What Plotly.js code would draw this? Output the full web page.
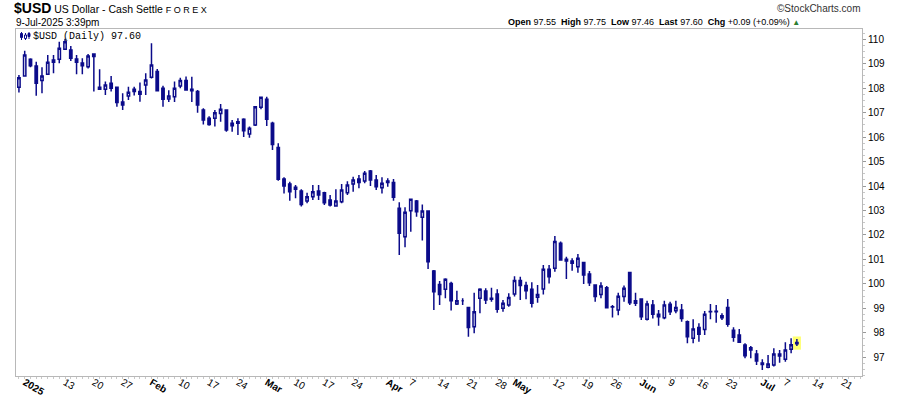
<!DOCTYPE html>
<html>
<head>
<meta charset="utf-8">
<script src="https://cdn.plot.ly/plotly-3.0.1.min.js"></script>
<style>html,body{margin:0;padding:0;background:#fff;}#chart{width:900px;height:396px;}</style>
</head>
<body>
<div id="chart"></div>
<script>
const dates = [
'2024-12-31',
'2025-01-02','2025-01-03','2025-01-06','2025-01-07','2025-01-08','2025-01-09','2025-01-10','2025-01-13','2025-01-14','2025-01-15','2025-01-16','2025-01-17','2025-01-20','2025-01-21','2025-01-22','2025-01-23','2025-01-24','2025-01-27','2025-01-28','2025-01-29','2025-01-30','2025-01-31',
'2025-02-03','2025-02-04','2025-02-05','2025-02-06','2025-02-07','2025-02-10','2025-02-11','2025-02-12','2025-02-13','2025-02-14','2025-02-17','2025-02-18','2025-02-19','2025-02-20','2025-02-21','2025-02-24','2025-02-25','2025-02-26','2025-02-27','2025-02-28',
'2025-03-03','2025-03-04','2025-03-05','2025-03-06','2025-03-07','2025-03-10','2025-03-11','2025-03-12','2025-03-13','2025-03-14','2025-03-17','2025-03-18','2025-03-19','2025-03-20','2025-03-21','2025-03-24','2025-03-25','2025-03-26','2025-03-27','2025-03-28','2025-03-31',
'2025-04-01','2025-04-02','2025-04-03','2025-04-04','2025-04-07','2025-04-08','2025-04-09','2025-04-10','2025-04-11','2025-04-14','2025-04-15','2025-04-16','2025-04-17','2025-04-18','2025-04-21','2025-04-22','2025-04-23','2025-04-24','2025-04-25','2025-04-28','2025-04-29','2025-04-30',
'2025-05-01','2025-05-02','2025-05-05','2025-05-06','2025-05-07','2025-05-08','2025-05-09','2025-05-12','2025-05-13','2025-05-14','2025-05-15','2025-05-16','2025-05-19','2025-05-20','2025-05-21','2025-05-22','2025-05-23','2025-05-26','2025-05-27','2025-05-28','2025-05-29','2025-05-30',
'2025-06-02','2025-06-03','2025-06-04','2025-06-05','2025-06-06','2025-06-09','2025-06-10','2025-06-11','2025-06-12','2025-06-13','2025-06-16','2025-06-17','2025-06-18','2025-06-19','2025-06-20','2025-06-23','2025-06-24','2025-06-25','2025-06-26','2025-06-27','2025-06-30',
'2025-07-01','2025-07-02','2025-07-03','2025-07-04','2025-07-07','2025-07-08','2025-07-09'
];
const openV = [
108.04,
108.5,109.18,108.91,108.31,108.57,109.06,109.18,109.59,109.56,109.19,109.03,108.88,109.4,107.96,107.96,108.2,108.04,107.44,107.68,107.86,107.86,108.13,
108.45,108.68,108.0,107.56,107.65,108.09,108.31,107.96,107.86,107.11,106.77,106.77,106.97,107.11,106.46,106.63,106.73,106.13,106.5,107.22,
107.55,106.57,105.58,104.29,104.08,103.87,103.8,103.39,103.56,103.8,103.73,103.43,103.18,103.36,103.73,104.08,104.29,104.21,104.62,104.25,103.93,
104.21,104.15,103.09,101.93,102.99,103.39,102.72,102.98,100.53,99.98,99.78,100.02,99.18,99.31,99.04,98.25,99.41,99.71,99.41,99.59,99.0,99.14,
99.59,100.14,99.93,99.78,99.45,99.79,100.6,100.64,101.66,100.94,100.94,100.7,100.87,100.4,99.95,99.57,99.84,99.07,98.93,99.48,100.47,99.21,
99.38,98.55,99.14,98.76,98.62,99.17,98.9,98.93,98.45,97.78,98.22,98.14,98.86,98.88,98.7,99.04,98.11,97.91,97.5,97.3,97.13,
96.77,96.59,96.68,97.05,96.92,97.33,97.55
];
const highV = [
108.54,
109.53,109.22,109.08,108.86,109.36,109.36,109.9,110.02,109.73,109.36,109.22,109.4,109.42,108.77,108.27,108.5,108.06,107.79,108.06,108.06,108.23,108.61,
109.84,108.78,108.1,107.92,108.27,108.43,108.48,108.47,107.93,107.18,106.85,107.11,107.35,107.12,106.7,106.77,106.77,106.43,107.27,107.65,
107.65,106.63,105.75,104.36,104.18,104.04,103.87,103.73,104.04,104.04,103.77,103.63,103.87,104.08,104.2,104.38,104.45,104.62,104.66,104.45,104.36,
104.32,104.29,103.34,103.13,103.47,103.43,103.25,102.99,100.57,100.12,100.23,100.09,99.72,99.41,99.05,99.64,99.82,99.82,99.84,99.78,99.34,99.62,
100.31,100.29,100.09,100.07,99.95,100.77,100.77,101.96,101.73,101.11,101.05,101.22,100.88,100.53,99.96,100.07,99.91,99.14,99.64,99.93,100.48,99.64,
99.39,99.31,99.34,98.93,99.31,99.27,99.31,99.18,98.5,98.55,98.39,98.89,99.18,99.14,98.8,99.38,98.23,98.16,97.57,97.46,97.3,
96.92,97.09,97.37,97.3,97.61,97.78,97.75
];
const lowV = [
107.82,
108.47,108.86,107.69,107.79,108.54,108.61,109.02,109.56,109.11,108.57,108.57,108.81,107.86,107.93,107.72,107.86,107.24,107.11,107.52,107.7,107.45,107.72,
108.4,107.88,107.24,107.44,107.44,108.0,107.9,107.44,107.0,106.52,106.47,106.43,106.63,106.22,106.22,106.09,106.0,105.97,106.45,107.14,
106.45,105.47,104.22,103.7,103.4,103.5,103.16,103.3,103.43,103.43,103.23,103.16,103.16,103.3,103.63,103.77,103.91,104.11,104.0,103.84,103.7,
103.97,103.4,101.18,101.5,102.13,102.75,101.77,100.61,98.93,99.14,99.41,98.91,99.14,99.14,97.84,97.98,98.8,99.18,99.27,98.82,98.86,99.07,
99.48,99.34,99.37,99.04,99.23,99.57,100.02,100.5,100.95,100.2,100.54,100.46,100.0,99.91,99.27,99.41,99.03,98.63,98.72,99.27,99.14,99.1,
98.52,98.5,98.59,98.29,98.55,98.73,98.8,98.45,97.57,97.57,97.64,97.91,98.55,98.41,98.52,98.25,97.64,97.61,96.96,96.96,96.68,
96.48,96.55,96.62,96.78,96.82,97.16,97.46
];
const closeV = [
108.43,
109.36,108.92,108.2,108.5,109.06,109.15,109.63,109.9,109.22,109.06,108.92,109.32,109.3,108.04,108.13,108.0,107.42,107.31,107.83,107.96,107.75,108.34,
108.95,107.9,107.55,107.68,108.0,108.31,107.93,107.9,107.31,106.7,106.52,107.0,107.14,106.29,106.57,106.57,106.26,106.36,107.24,107.63,
106.73,105.7,104.28,104.0,103.77,103.95,103.25,103.56,103.77,103.63,103.32,103.23,103.39,103.84,104.04,104.25,104.14,104.52,104.25,103.97,104.11,
104.14,103.54,102.07,102.93,103.46,102.95,102.98,100.91,99.68,99.57,100.19,99.31,99.31,99.31,98.22,98.86,99.78,99.34,99.37,98.96,99.21,99.44,
100.14,99.93,99.72,99.21,99.57,100.6,100.29,101.73,100.98,101.01,100.84,101.05,100.36,100.05,99.48,99.91,99.03,99.06,99.5,99.82,99.23,99.31,
98.66,99.18,98.76,98.66,99.14,98.86,99.04,98.59,97.84,98.16,97.94,98.76,98.87,98.86,98.62,98.35,97.82,97.61,97.06,97.39,96.85,
96.71,96.73,97.13,97.13,97.3,97.51,97.6
];

const tickDates = ['2025-01-02','2025-01-13','2025-01-20','2025-01-27','2025-02-03','2025-02-10','2025-02-17','2025-02-24','2025-03-03','2025-03-10','2025-03-17','2025-03-24','2025-04-01','2025-04-07','2025-04-14','2025-04-21','2025-04-28','2025-05-01','2025-05-12','2025-05-19','2025-05-26','2025-06-02','2025-06-09','2025-06-16','2025-06-23','2025-07-01','2025-07-07','2025-07-14','2025-07-21'];
const tickLabels = ['<b>2025</b>','13','20','27','<b>Feb</b>','10','17','24','<b>Mar</b>','10','17','24','<b>Apr</b>','7','14','21','28','<b>May</b>','12','19','26','<b>Jun</b>','9','16','23','<b>Jul</b>','7','14','21'];
const yTicks = [97,98,99,100,101,102,103,104,105,106,107,108,109,110];

const NAVY = '#0b0b8a';
const FONT = '"Liberation Sans", Arial, sans-serif';

function idxOf(d) {
  const i = dates.indexOf(d);
  if (i >= 0) return i;
  let n = dates.length - 1;
  const cur = new Date(dates[dates.length - 1] + 'T00:00:00Z');
  const t = new Date(d + 'T00:00:00Z');
  while (cur < t) {
    cur.setUTCDate(cur.getUTCDate() + 1);
    const wd = cur.getUTCDay();
    if (wd !== 0 && wd !== 6) n++;
  }
  return n;
}
const xIdx = dates.map((d, i) => i);
const tickVals = tickDates.map(idxOf);

const L = 16, R = 862, T = 29, B = 376, W = 900, H = 396;
const px = p => (p - L) / (R - L);
const py = p => (B - p) / (B - T);

const last = dates.length - 1;
const chg = closeV[last] - closeV[last - 1];
const pct = chg / closeV[last - 1] * 100;
const sgn = v => (v >= 0 ? '+' : '') + v.toFixed(2);

const trace = {
  type: 'candlestick',
  x: xIdx, open: openV, high: highV, low: lowV, close: closeV,
  increasing: {line: {color: NAVY, width: 1.5}, fillcolor: '#ffffff'},
  decreasing: {line: {color: NAVY, width: 1.5}, fillcolor: NAVY},
  whiskerwidth: 0,
  hoverinfo: 'skip',
  showlegend: false
};

const annotations = [
  {xref:'paper', yref:'paper', x:px(12), y:py(8), xanchor:'left', yanchor:'middle', showarrow:false,
   text:'<span style="font-size:14px"><b>$USD</b></span> US Dollar - Cash Settle <span style="font-size:9px">F O R E X</span>',
   font:{family:FONT, size:10.5, color:'#000'}},
  {xref:'paper', yref:'paper', x:px(14), y:py(22), xanchor:'left', yanchor:'middle', showarrow:false,
   text:'9-Jul-2025 3:39pm', font:{family:FONT, size:10, color:'#000'}},
  {xref:'paper', yref:'paper', x:px(863), y:py(8), xanchor:'right', yanchor:'middle', showarrow:false,
   text:'\u00A9StockCharts.com', font:{family:FONT, size:10, color:'#333'}},
  {xref:'paper', yref:'paper', x:px(802), y:py(22), xanchor:'right', yanchor:'middle', showarrow:false,
   text:'<b>Open</b> ' + openV[last].toFixed(2) + ' <b> High</b> ' + highV[last].toFixed(2) +
        ' <b> Low</b> ' + lowV[last].toFixed(2) + ' <b> Last</b> ' + closeV[last].toFixed(2) +
        ' <b> Chg</b> ' + sgn(chg) + ' (' + sgn(pct) + '%) <span style="color:#2e7d32;font-size:8px">\u25B2</span>',
   font:{family:FONT, size:9, color:'#000'}},
  {xref:'paper', yref:'paper', x:px(31), y:py(36), xanchor:'left', yanchor:'middle', showarrow:false,
   text:'$USD (Daily) ' + closeV[last].toFixed(2), font:{family:'"Liberation Mono", "DejaVu Sans Mono", monospace', size:10, color:'#000'}}
];

const shapes = [
  {type:'rect', xref:'x', yref:'y', layer:'below',
   x0: xIdx[last] - 0.7, x1: xIdx[last] + 0.7, y0: lowV[last] - 0.15, y1: highV[last] + 0.1,
   fillcolor:'#ffff70', line:{width:0}},
  {type:'line', xref:'paper', yref:'paper', x0:px(21.5), x1:px(21.5), y0:py(32), y1:py(40), line:{color:NAVY, width:1}},
  {type:'rect', xref:'paper', yref:'paper', x0:px(20.5), x1:px(22.5), y0:py(33.5), y1:py(37.5), fillcolor:NAVY, line:{color:NAVY, width:1}},
  {type:'line', xref:'paper', yref:'paper', x0:px(25.5), x1:px(25.5), y0:py(33), y1:py(40), line:{color:NAVY, width:1}},
  {type:'rect', xref:'paper', yref:'paper', x0:px(24.5), x1:px(26.5), y0:py(35), y1:py(38.5), fillcolor:'#fff', line:{color:NAVY, width:1}},
  {type:'line', xref:'paper', yref:'paper', x0:px(29), x1:px(29), y0:py(32), y1:py(39), line:{color:NAVY, width:1}},
  {type:'rect', xref:'paper', yref:'paper', x0:px(28), x1:px(30), y0:py(33.5), y1:py(36.5), fillcolor:NAVY, line:{color:NAVY, width:1}}
];

const layout = {
  width: W, height: H,
  margin: {l: L, r: W - R, t: T, b: H - B, pad: 0},
  paper_bgcolor: '#fff', plot_bgcolor: '#fff',
  font: {family: FONT, size: 10, color: '#000'},
  showlegend: false,
  hovermode: false,
  boxgap: 0.42,
  xaxis: {
    type: 'linear', range: [-0.51, 146.3], fixedrange: true,
    rangeslider: {visible: false},
    showgrid: false, zeroline: false,
    showline: true, linecolor: '#b8b8b8', linewidth: 1, mirror: true,
    tickmode: 'array', tickvals: tickVals, ticktext: tickLabels,
    ticks: '', ticklen: 0, ticklabelstandoff: -4,
    minor: {tickmode: 'linear', tick0: 0, dtick: 1, ticks: 'outside', ticklen: 2, tickcolor: '#c8c8c8', showgrid: false},
    tickfont: {family: FONT, size: 10, color: '#000'}
  },
  yaxis: {
    side: 'right', range: [96.235, 110.42], fixedrange: true,
    showgrid: false, zeroline: false,
    showline: true, linecolor: '#b8b8b8', linewidth: 1, mirror: true,
    tickmode: 'array', tickvals: yTicks,
    ticktext: yTicks.map(v => (v < 100 ? '\u2007' : '') + v),
    ticks: 'outside', ticklen: 3, tickcolor: '#999',
    minor: {tickmode: 'linear', tick0: 0, dtick: 0.25, ticks: 'outside', ticklen: 2, tickcolor: '#c8c8c8', showgrid: false},
    tickfont: {family: FONT, size: 10, color: '#000'}
  },
  annotations: annotations,
  shapes: shapes
};

Plotly.newPlot('chart', [trace], layout, {staticPlot: true, displayModeBar: false});
</script>
</body>
</html>
